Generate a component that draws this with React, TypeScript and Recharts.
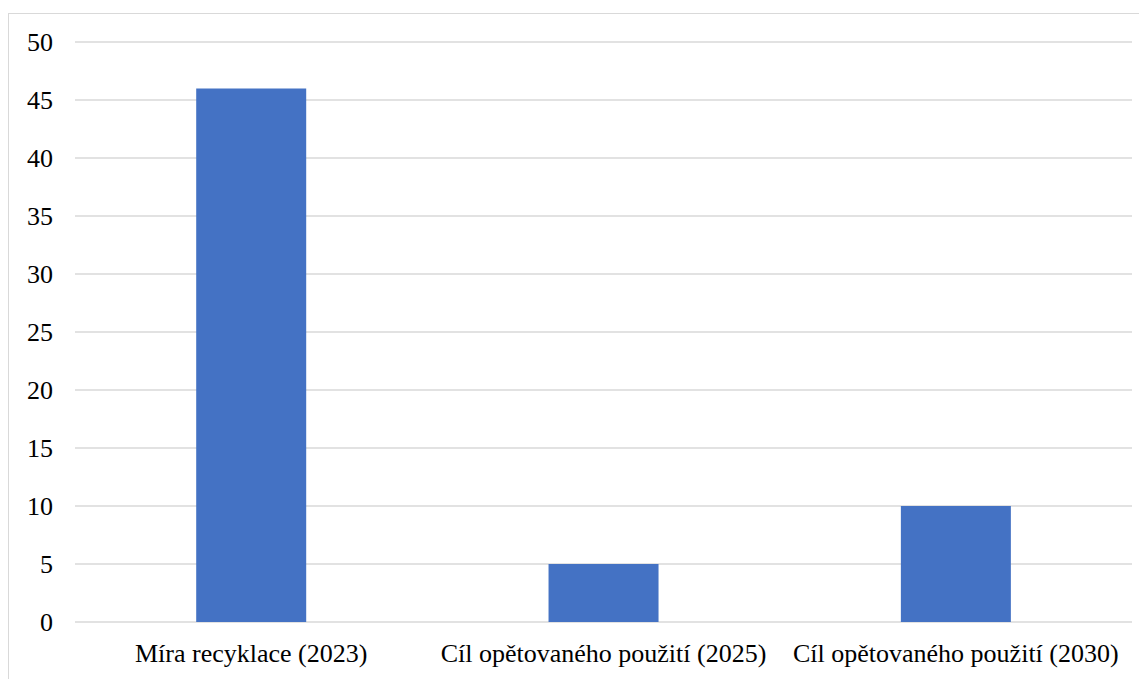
import React from "react";
import { BarChart, Bar, XAxis, YAxis, CartesianGrid } from "recharts";

const categories = [
  "Míra recyklace (2023)",
  "Cíl opětovaného použití (2025)",
  "Cíl opětovaného použití (2030)",
];
const values = [46, 5, 10];
const yTicks = [0, 5, 10, 15, 20, 25, 30, 35, 40, 45, 50];

const data = categories.map((name, i) => ({ name, value: values[i] }));

const font = { fontFamily: "'Liberation Serif', 'Times New Roman', serif", fontSize: 26, fill: "#000" };

export default function App() {
  return (
    <div>
      <style>{`body{overflow:hidden}`}</style>
      <div
        style={{
          marginTop: 5,
          width: 1150,
          height: 700,
          border: "1px solid #d9d9d9",
          boxSizing: "border-box",
        }}
      >
        <BarChart
          width={1139}
          height={665}
          data={data}
          margin={{ top: 28, right: 16, bottom: 0, left: 0 }}
          barCategoryGap="34.4%"
        >
          <CartesianGrid vertical={false} stroke="#d9d9d9" strokeWidth={1.5} />
          <XAxis
            dataKey="name"
            axisLine={false}
            tickLine={false}
            tickSize={0}
            tickMargin={22}
            height={57}
            tick={font}
            interval={0}
          />
          <YAxis
            domain={[0, 50]}
            ticks={yTicks}
            axisLine={false}
            tickLine={false}
            tickSize={0}
            tickMargin={22}
            width={66}
            tick={font}
            interval={0}
          />
          <Bar dataKey="value" fill="#4472C4" isAnimationActive={false} />
        </BarChart>
      </div>
    </div>
  );
}
